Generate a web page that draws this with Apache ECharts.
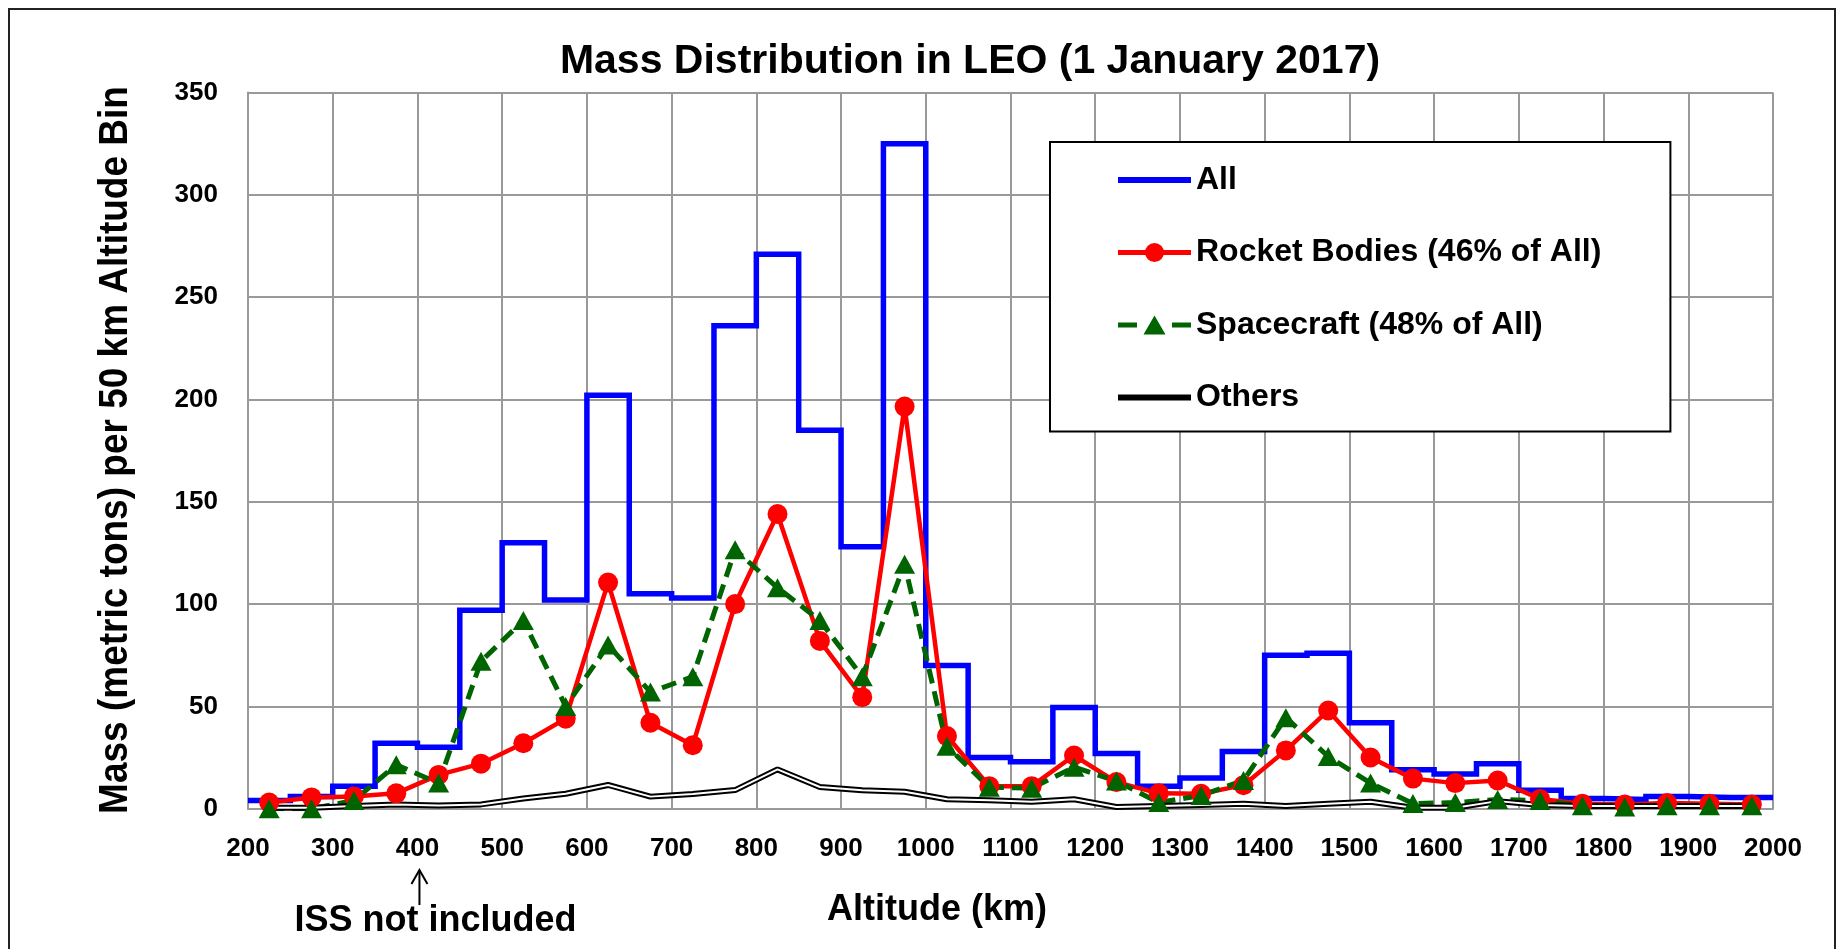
<!DOCTYPE html>
<html lang="en">
<head>
    <meta charset="UTF-8">
    <title>Mass Distribution in LEO</title>
    <style>
        html, body { margin: 0; padding: 0; background: #fff; }
        #container { width: 1837px; height: 949px; }
    </style>
</head>
<body>
    <div id="container"></div>
    <script src="https://cdn.jsdelivr.net/npm/echarts@6/dist/echarts.min.js"></script>
    <script>
        // 50 km altitude bins, centre of each bin (km)
        var binCenters = [225, 275, 325, 375, 425, 475, 525, 575, 625, 675, 725, 775,
            825, 875, 925, 975, 1025, 1075, 1125, 1175, 1225, 1275, 1325, 1375,
            1425, 1475, 1525, 1575, 1625, 1675, 1725, 1775, 1825, 1875, 1925, 1975];

        // metric tons per bin
        var allMass = [4, 6, 11, 32, 30, 97, 130, 102, 202, 105, 103, 236,
            271, 185, 128, 325, 70, 25, 23, 49.5, 27, 11, 15, 28,
            75, 76, 42, 19, 17, 22, 9, 5, 4.5, 6, 5.5, 5.5];
        var rocketMass = [3, 5.5, 6, 7.5, 16.5, 22, 32, 44, 110.5, 42, 31, 100,
            144, 82, 54.5, 196.5, 35.5, 11, 11, 26, 13, 7.5, 7.3, 11.5,
            28.5, 48, 25, 14.7, 12.5, 13.8, 4.8, 2.4, 2, 2.8, 2.4, 2];
        var spacecraftMass = [0, 0, 4, 21.5, 12.5, 72, 92, 50, 80, 57, 64.5, 126.5,
            108, 92, 64.5, 119.5, 30.5, 10.5, 10, 20.3, 13.5, 3, 6.5, 13.8,
            44.5, 25.5, 12.5, 2.5, 3, 4.5, 4, 1.5, 0.8, 1.5, 1.5, 1.5];
        var othersMass = [0.5, 0.5, 1.3, 2.1, 1.6, 2.1, 5, 7.3, 11.6, 5.9, 7.2, 9.1,
            19.2, 10.6, 9, 8.3, 4.6, 4.1, 3.4, 4.6, 0.8, 1.3, 1.8, 2.4,
            1.3, 2.4, 3.4, 0.5, 0.5, 3.7, 1.8, 1.3, 1.3, 1.3, 1.3, 1.3];

        var seriesNames = ['All', 'Rocket Bodies (46% of All)', 'Spacecraft (48% of All)', 'Others'];

        var FONT = '"Liberation Sans", Arial, sans-serif';
        var halfBin = 25;

        function pairs(vals) {
            return binCenters.map(function (c, i) { return [c, vals[i]]; });
        }
        // histogram outline: left edge of every bin, plus the right edge of the last one
        var allSteps = binCenters.map(function (c, i) { return [c - halfBin, allMass[i]]; });
        allSteps.push([binCenters[binCenters.length - 1] + halfBin, allMass[allMass.length - 1]]);

        // legend keys drawn like the spreadsheet ones (thick line, marker in the middle)
        var barIcon = 'path://M0,0H73V6H0Z';
        var circleIcon = 'path://M0,7H73V12H0Z M27,9.5A9.5,9.5 0 1,1 46,9.5A9.5,9.5 0 1,1 27,9.5Z';
        var triangleIcon = 'path://M0,7H19V12H0Z M54,7H73V12H54Z M36.5,0L47.5,19L25.5,19Z';

        var ec = echarts.init(document.getElementById('container'));

        var option = {
            animation: false,
            backgroundColor: '#fff',
            title: {
                text: 'Mass Distribution in LEO (1 January 2017)',
                left: 970,
                textAlign: 'center',
                top: 41,
                padding: 0,
                textStyle: { fontFamily: FONT, fontWeight: 'bold', fontSize: 41, color: '#000' }
            },
            legend: {
                data: [
                    { name: seriesNames[0], icon: barIcon },
                    { name: seriesNames[1], icon: circleIcon },
                    { name: seriesNames[2], icon: triangleIcon },
                    { name: seriesNames[3], icon: barIcon }
                ],
                orient: 'vertical',
                left: 1050,
                top: 142,
                padding: [22, 69, 18, 68],
                itemWidth: 73,
                itemHeight: 24,
                itemGap: 40.5,
                selectedMode: false,
                backgroundColor: '#fff',
                borderColor: '#000',
                borderWidth: 2,
                textStyle: { fontFamily: FONT, fontWeight: 'bold', fontSize: 32, lineHeight: 32, color: '#000' }
            },
            grid: {
                left: 248, right: 64, top: 92.5, bottom: 140.3,
                containLabel: false
            },
            xAxis: {
                type: 'value',
                min: 200, max: 2000, interval: 100,
                axisLine: { show: true, lineStyle: { color: '#999', width: 2 } },
                axisTick: { show: false },
                axisLabel: {
                    margin: 27, fontFamily: FONT, fontWeight: 'bold', fontSize: 26, color: '#000',
                    formatter: function (v) { return String(v); }
                },
                splitLine: { show: true, lineStyle: { color: '#999', width: 2 } }
            },
            yAxis: {
                type: 'value',
                min: 0, max: 350, interval: 50,
                axisLine: { show: true, lineStyle: { color: '#999', width: 2 } },
                axisTick: { show: false },
                axisLabel: { margin: 30, fontFamily: FONT, fontWeight: 'bold', fontSize: 26, color: '#000' },
                splitLine: { show: true, lineStyle: { color: '#999', width: 2 } }
            },
            series: [
                {
                    name: 'All', type: 'line', step: 'end',
                    data: allSteps, showSymbol: false, symbol: 'none',
                    color: '#0000ff',
                    lineStyle: { color: '#0000ff', width: 5.5, join: 'miter' }
                },
                {
                    name: 'Rocket Bodies (46% of All)', type: 'line',
                    data: pairs(rocketMass),
                    symbol: 'circle', symbolSize: 20,
                    color: '#ff0000',
                    itemStyle: { color: '#ff0000' },
                    lineStyle: { color: '#ff0000', width: 4.5, join: 'round' }
                },
                {
                    name: 'Spacecraft (48% of All)', type: 'line',
                    data: pairs(spacecraftMass),
                    symbol: 'triangle', symbolSize: [21, 19],
                    color: '#006400',
                    itemStyle: { color: '#006400' },
                    lineStyle: { color: '#006400', width: 5, type: [15, 8], cap: 'butt' }
                },
                {
                    name: 'Others', type: 'line',
                    data: pairs(othersMass), symbol: 'none',
                    color: '#000',
                    lineStyle: { color: '#000', width: 6 }
                },
                {
                    name: 'Others inner', type: 'line',
                    data: pairs(othersMass), symbol: 'none',
                    color: '#fff', silent: true,
                    lineStyle: { color: '#fff', width: 2 }
                }
            ]
        };
        ec.setOption(option);

        // annotation pointing at 400 km on the axis
        var issX = ec.convertToPixel({ xAxisIndex: 0 }, 400);

        ec.setOption({
            graphic: {
                elements: [
                    {
                        type: 'rect', z: 100, silent: true,
                        shape: { x: 9, y: 9, width: 1826, height: 1000 },
                        style: { fill: 'none', stroke: '#222', lineWidth: 2 }
                    },
                    {
                        type: 'text', z: 100, x: 116, y: 450, rotation: Math.PI / 2, scaleY: 1.12,
                        style: {
                            text: 'Mass (metric tons) per 50 km Altitude Bin',
                            font: 'bold 37px ' + FONT, fill: '#000',
                            align: 'center', verticalAlign: 'middle'
                        }
                    },
                    {
                        type: 'text', z: 100, x: 937, y: 910,
                        style: {
                            text: 'Altitude (km)', font: 'bold 36px ' + FONT, fill: '#000',
                            align: 'center', verticalAlign: 'middle'
                        }
                    },
                    {
                        type: 'text', z: 100, x: issX + 18, y: 921,
                        style: {
                            text: 'ISS not included', font: 'bold 36px ' + FONT, fill: '#000',
                            align: 'center', verticalAlign: 'middle'
                        }
                    },
                    {
                        type: 'line', z: 100,
                        shape: { x1: issX + 2, y1: 870, x2: issX + 2, y2: 905 },
                        style: { stroke: '#000', lineWidth: 2 }
                    },
                    {
                        type: 'polyline', z: 100,
                        shape: { points: [[issX - 6, 884], [issX + 2, 870], [issX + 10, 884]] },
                        style: { stroke: '#000', lineWidth: 2, fill: 'none' }
                    }
                ]
            }
        });
    </script>
</body>
</html>
